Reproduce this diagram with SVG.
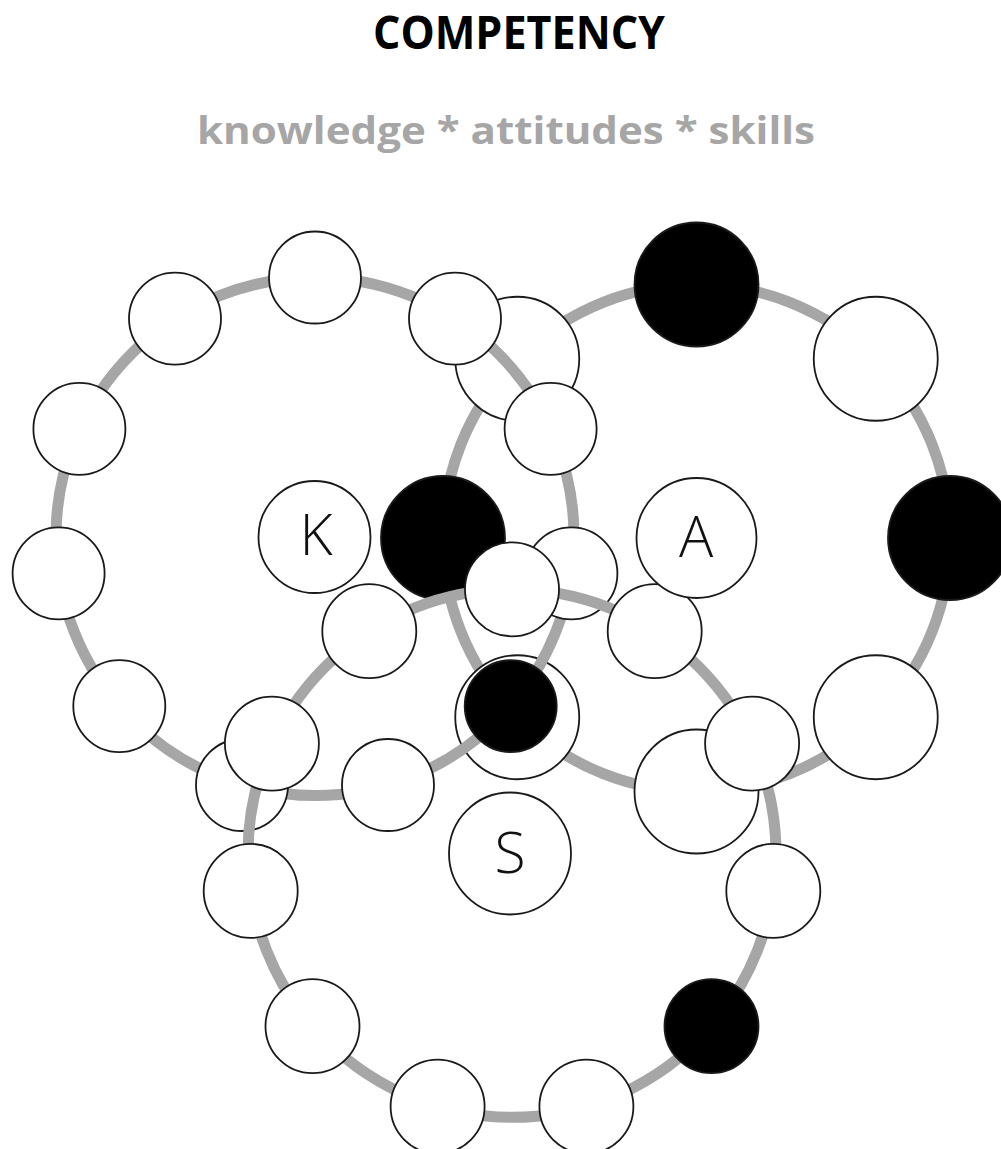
<svg xmlns="http://www.w3.org/2000/svg" width="1001" height="1149" viewBox="0 0 1001 1149">
<style>
.ring{fill:none;stroke:#a6a6a6;stroke-width:11}
.n{fill:#fff;stroke:#1a1a1a;stroke-width:1.8}
.b{fill:#000;stroke:#1a1a1a;stroke-width:1.8}
.title{font-family:"Open Sans","Noto Sans","Liberation Sans",sans-serif;font-weight:700}
.lbl{font-family:"Open Sans","Noto Sans","Liberation Sans",sans-serif;font-weight:300;font-size:57px;fill:#111;text-anchor:middle}
</style>
<rect width="1001" height="1149" fill="#fff"/>
<g id="title">
<text class="title" x="373" y="49" font-size="46" textLength="292" lengthAdjust="spacingAndGlyphs" fill="#000">COMPETENCY</text>
<text class="title" x="197" y="144" font-size="38" textLength="618" lengthAdjust="spacingAndGlyphs" fill="#a6a6a6">knowledge * attitudes * skills</text>
</g>
<g id="connectors-attitudes"><circle class="ring" cx="696.5" cy="538" r="253.5"/></g>
<g id="ring-attitudes-nodes">
<g id="a0"><circle class="b" cx="950" cy="538" r="62"/></g>
<g id="a1"><circle class="n" cx="875.75" cy="358.75" r="62"/></g>
<g id="a2"><circle class="b" cx="696.5" cy="284.5" r="62"/></g>
<g id="a3"><circle class="n" cx="517.25" cy="358.75" r="62"/></g>
<g id="a4"><circle class="b" cx="443" cy="538" r="62"/></g>
<g id="a5"><circle class="n" cx="517.25" cy="717.25" r="62"/></g>
<g id="a6"><circle class="n" cx="696.5" cy="791.5" r="62"/></g>
<g id="a7"><circle class="n" cx="875.75" cy="717.25" r="62"/></g>
</g>
<g id="connectors-knowledge"><circle class="ring" cx="315" cy="536.5" r="259"/></g>
<g id="ring-knowledge-nodes">
<g id="k0"><circle class="n" cx="315" cy="277.5" r="46"/></g>
<g id="k1"><circle class="n" cx="175" cy="318.6" r="46"/></g>
<g id="k2"><circle class="n" cx="79.4" cy="428.9" r="46"/></g>
<g id="k3"><circle class="n" cx="58.6" cy="573.4" r="46"/></g>
<g id="k4"><circle class="n" cx="119.3" cy="706.1" r="46"/></g>
<g id="k5"><circle class="n" cx="242" cy="785" r="46"/></g>
<g id="k6"><circle class="n" cx="388" cy="785" r="46"/></g>
<g id="k7"><circle class="b" cx="510.7" cy="706.1" r="46"/></g>
<g id="k8"><circle class="n" cx="571.4" cy="573.4" r="46"/></g>
<g id="k9"><circle class="n" cx="550.6" cy="428.9" r="46"/></g>
<g id="k10"><circle class="n" cx="455" cy="318.6" r="46"/></g>
</g>
<g id="connectors-skills"><circle class="ring" cx="512" cy="853.3" r="264"/></g>
<g id="ring-skills-nodes">
<g id="s0"><circle class="n" cx="512" cy="589.3" r="47"/></g>
<g id="s1"><circle class="n" cx="369.3" cy="631.2" r="47"/></g>
<g id="s2"><circle class="n" cx="271.9" cy="743.6" r="47"/></g>
<g id="s3"><circle class="n" cx="250.7" cy="890.9" r="47"/></g>
<g id="s4"><circle class="n" cx="312.5" cy="1026.2" r="47"/></g>
<g id="s5"><circle class="n" cx="437.6" cy="1106.6" r="47"/></g>
<g id="s6"><circle class="n" cx="586.4" cy="1106.6" r="47"/></g>
<g id="s7"><circle class="b" cx="711.5" cy="1026.2" r="47"/></g>
<g id="s8"><circle class="n" cx="773.3" cy="890.9" r="47"/></g>
<g id="s9"><circle class="n" cx="752.1" cy="743.6" r="47"/></g>
<g id="s10"><circle class="n" cx="654.7" cy="631.2" r="47"/></g>
</g>
<g id="label-K"><circle class="n" cx="314.5" cy="537" r="56"/><text class="lbl" x="316" y="555">K</text></g>
<g id="label-A"><circle class="n" cx="696.5" cy="538" r="60"/><text class="lbl" x="696" y="557">A</text></g>
<g id="label-S"><circle class="n" cx="510" cy="853.5" r="61"/><text class="lbl" x="510" y="873">S</text></g>
</svg>
